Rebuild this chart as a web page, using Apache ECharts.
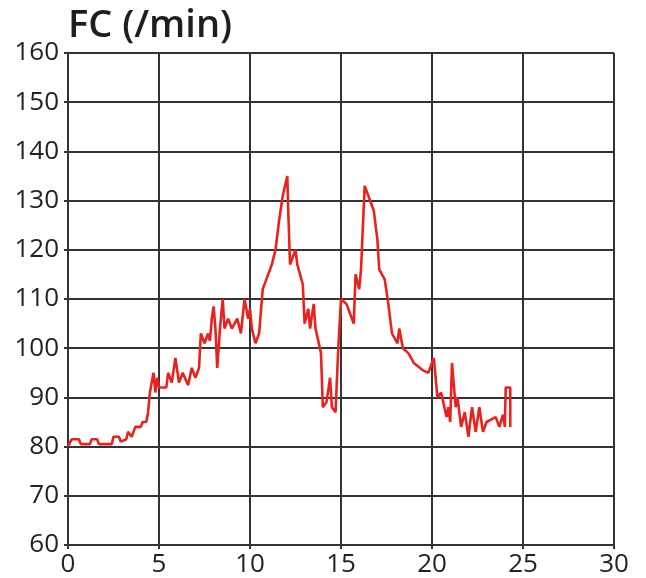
<!DOCTYPE html>
<html>
<head>
<meta charset="utf-8">
<script src="https://cdn.jsdelivr.net/npm/echarts@6/dist/echarts.min.js"></script>
<style>
html,body{margin:0;padding:0;background:#fff;}
#c{width:646px;height:578px;}
</style>
</head>
<body>
<div id="c"></div>
<script>
var titleText = 'FC (/min)';
var xTicks = [0, 5, 10, 15, 20, 25, 30];
var yTicks = [60, 70, 80, 90, 100, 110, 120, 130, 140, 150, 160];
var times = [0,0.2,0.6,0.7,1.2,1.3,1.6,1.7,2.4,2.5,2.8,2.9,3.2,3.3,3.5,3.7,4.0,4.1,4.3,4.4,4.5,4.7,4.8,4.9,5.0,5.4,5.5,5.7,5.9,6.1,6.3,6.6,6.8,7.0,7.2,7.3,7.5,7.7,7.8,7.9,8.0,8.1,8.2,8.35,8.5,8.6,8.8,9.0,9.3,9.5,9.7,9.9,10.0,10.1,10.3,10.5,10.7,11.0,11.2,11.4,11.6,11.8,12.05,12.1,12.2,12.4,12.5,12.6,12.9,13.0,13.2,13.3,13.5,13.6,13.9,14.0,14.2,14.4,14.5,14.7,14.85,15.0,15.3,15.5,15.7,15.8,16.0,16.1,16.3,16.5,16.8,17.0,17.1,17.4,17.6,17.8,18.1,18.2,18.4,18.7,19.0,19.5,19.8,20.1,20.3,20.5,20.8,20.9,21.0,21.1,21.3,21.4,21.6,21.8,22.0,22.2,22.4,22.6,22.8,23.0,23.5,23.7,23.9,24.0,24.05,24.3,24.3];
var fc = [80,81.5,81.5,80.5,80.5,81.5,81.5,80.5,80.5,82,82,81,81.5,83,82,84,84,85,85,87,91,95,91,94,92,92,95,93,98,93,95,92.5,96,94,96,103,101,103,101.5,106,108.5,104,96,104,110,104,106,104,106,103,110,106,108,104,101,103,112,115,117,120,126,131,135,128,117,119,120,117,113,105,108,104,109,104,99,88,89,94,88,87,100,110,109,107,105,115,112,116,133,131,128,122,116,114,109,103,101,104,100,99,97,95.5,95,98,90,91,86,88,85,97,88,90,84,87,82,88,83,88,83,85,86,84,86.5,84,92,92,84];

var data = times.map(function (t, i) { return [t, fc[i]]; });
var font = '"Open Sans", "Noto Sans", sans-serif';
var chart = echarts.init(document.getElementById('c'));
chart.setOption({
  animation: false,
  backgroundColor: '#fff',
  title: {
    text: titleText,
    left: 63, top: 2,
    textStyle: { fontFamily: font, fontSize: 38, fontWeight: 600, color: '#1e1e1e' }
  },
  grid: { left: 68, right: 32, top: 53, bottom: 33 },
  xAxis: {
    type: 'value', min: xTicks[0], max: xTicks[xTicks.length - 1], interval: 5,
    axisLine: { show: true, lineStyle: { color: '#333', width: 2 } },
    axisTick: { show: true, length: 4, lineStyle: { color: '#333', width: 2 } },
    splitLine: { show: true, lineStyle: { color: '#333', width: 2 } },
    axisLabel: { fontFamily: font, fontSize: 26, color: '#222', margin: 7 }
  },
  yAxis: {
    type: 'value', min: yTicks[0], max: yTicks[yTicks.length - 1], interval: 10,
    axisLine: { show: true, lineStyle: { color: '#333', width: 2 } },
    axisTick: { show: true, length: 4, lineStyle: { color: '#333', width: 2 } },
    splitLine: { show: true, lineStyle: { color: '#333', width: 2 } },
    axisLabel: { fontFamily: font, fontSize: 26, color: '#222', margin: 9 }
  },
  series: [{
    type: 'line',
    data: data,
    showSymbol: false,
    lineStyle: { color: '#e8231f', width: 2.6 },
    z: 5
  }]
});
</script>
</body>
</html>
